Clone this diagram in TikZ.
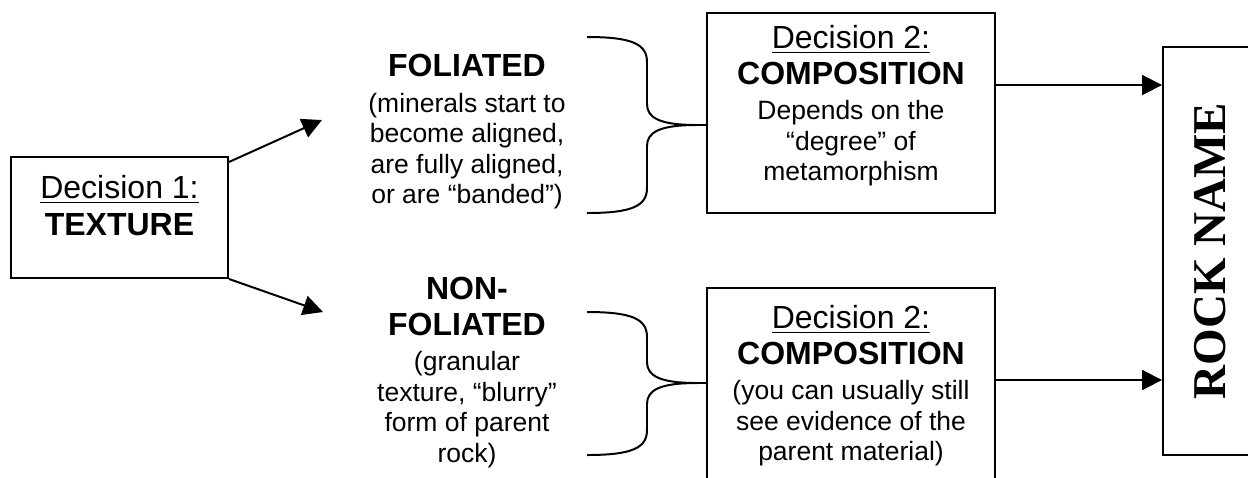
\documentclass[tikz,border=0pt]{standalone}
\usepackage{fontspec}
\setmainfont{Liberation Sans}
\newfontfamily\rockfont{Liberation Serif}
\usetikzlibrary{arrows.meta}
\newcommand{\bodyfont}{\fontsize{12}{13.8}\selectfont}
\newcommand{\headfont}{\fontsize{14.5}{16.7}\selectfont}
\tikzstyle{decbox}=[draw=black, line width=0.9pt, inner sep=0pt]
\tikzstyle{txt}=[align=center, inner sep=0pt, anchor=north, font=\bodyfont]
\tikzstyle{link}=[draw=black, line width=0.9pt, -{Triangle[length=9pt,width=9pt]}]
\tikzstyle{brace}=[draw=black, line width=0.9pt]

\begin{document}
\begin{tikzpicture}[x=0.453pt, y=-0.453pt]
            \useasboundingbox (0,0) rectangle (1248,477);

            % boxes
            \node[decbox, minimum width=98.3pt, minimum height=54.8pt] (tex) at (119.5,217.5) {};
            \node[decbox, minimum width=130.5pt, minimum height=90.6pt] (topdec) at (851,113) {};
            \node[decbox, minimum width=130.5pt, minimum height=96pt] (botdec) at (851,394) {};
            \node[decbox, minimum width=43pt, minimum height=184.8pt] (rock) at (1210.5,251) {};

            % texts
            \node[txt, font=\headfont] (textxt) at (119.5,175) {\underline{Decision 1:}\\\textbf{TEXTURE}};
            \node[txt] (foltxt) at (467,54) {{\headfont\bfseries FOLIATED}\\[2.3pt]
                (minerals start to\\become aligned,\\are fully aligned,\\or are “banded”)};
            \node[txt] (nfoltxt) at (467,277) {{\headfont\bfseries NON-}\\[2.3pt]
                {\headfont\bfseries FOLIATED}\\[2.3pt](granular\\texture, “blurry”\\form of parent\\rock)};
            \node[txt] (toptxt) at (851,25) {{\headfont\underline{Decision 2:}}\\[2.3pt]
                {\headfont\bfseries COMPOSITION}\\[2.3pt]Depends on the\\“degree” of\\metamorphism};
            \node[txt] (bottxt) at (851,305) {{\headfont\underline{Decision 2:}}\\[2.3pt]
                {\headfont\bfseries COMPOSITION}\\[2.3pt](you can usually still\\see evidence of the\\parent material)};
            \node[rotate=90, inner sep=0pt, font=\rockfont\bfseries\fontsize{21.3}{25}\selectfont] (rocktxt) at (rock) {ROCK NAME};

            % braces
            \coordinate (ftip) at (697,125);
            \coordinate (nftip) at (697,383);
            \path[brace] (587,37) .. controls (632,37) and (647,44) .. (647,62) -- (647,104)
                .. controls (647,118) and (660,125) .. (ftip)
                .. controls (660,125) and (647,132) .. (647,146) -- (647,188)
                .. controls (647,206) and (632,213) .. (587,213);
            \path[brace] (587,312) .. controls (632,312) and (647,319) .. (647,337) -- (647,362)
                .. controls (647,376) and (660,383) .. (nftip)
                .. controls (660,383) and (647,390) .. (647,404) -- (647,430)
                .. controls (647,448) and (632,455) .. (587,455);

            % connectors
            \coordinate (folend) at (322,120);
            \coordinate (nfolend) at (323,312);
            \draw[link] ([yshift=-2.7pt]tex.north east) -- (folend);
            \draw[link] (tex.south east) -- (nfolend);
            \draw[brace] (ftip) -- (topdec.west |- ftip);
            \draw[brace] (nftip) -- (botdec.west |- nftip);
            \draw[link] (topdec.east |- 0,85) -- (rock.west |- 0,85);
            \draw[link] (botdec.east |- 0,380) -- (rock.west |- 0,380);
\end{tikzpicture}
\end{document}
